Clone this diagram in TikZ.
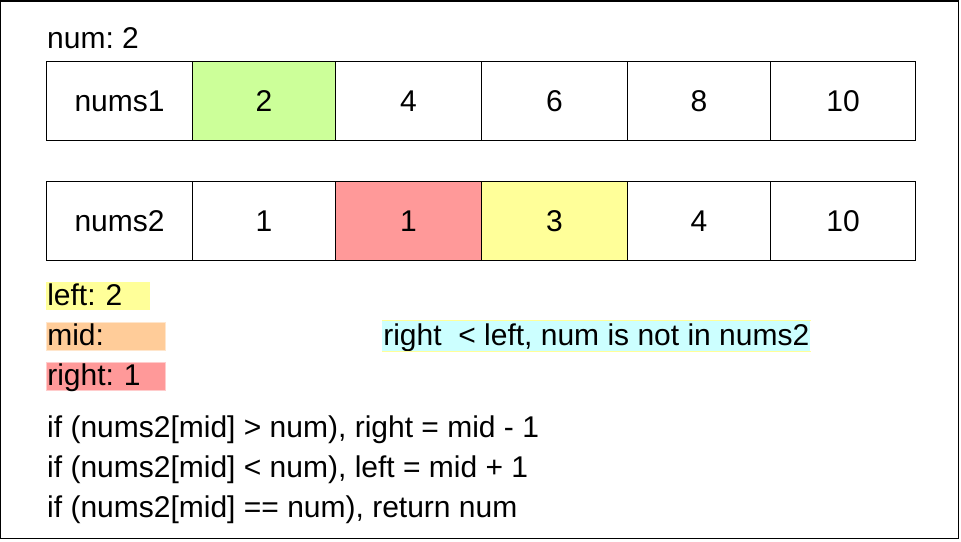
\documentclass[tikz,border=0pt]{standalone}
\usepackage{fontspec}
\setmainfont{Liberation Sans}
\usepackage{tikz}
\usetikzlibrary{positioning}

\definecolor{hitgreen}{HTML}{CCFF99}
\definecolor{midred}{HTML}{FF9999}
\definecolor{lowyellow}{HTML}{FFFF99}
\definecolor{midorange}{HTML}{FFCC99}
\definecolor{notecyan}{HTML}{CCFFFF}

\tikzset{
  cell/.style={draw, line width=1.1pt, minimum height=79pt, inner sep=0pt,
    text height=21pt, text depth=0pt, anchor=north west},
  tag/.style={anchor=north west, minimum height=28pt, inner xsep=1pt, inner ysep=0.5pt,
    text height=23pt, text depth=4pt, align=left, line width=0.6pt},
  txt/.style={anchor=base west, inner sep=0pt}
}

\begin{document}
\frenchspacing
\begin{tikzpicture}[x=1pt,y=-1pt,font=\fontsize{30}{36}\selectfont]
\useasboundingbox (0,0) rectangle (961,541);
\draw[line width=1.3pt] (0.6,1) rectangle (958.8,538.8);

\node[txt] (num) at (47,48) {num: 2};

% first array
\node[cell, minimum width=146pt] (a0) at (46,61) {nums1};
\node[cell, minimum width=143pt, fill=hitgreen] (a1) at (192,61) {2};
\node[cell, minimum width=146pt] (a2) at (335,61) {4};
\node[cell, minimum width=146pt] (a3) at (481,61) {6};
\node[cell, minimum width=143pt] (a4) at (627,61) {8};
\node[cell, minimum width=145pt] (a5) at (770,61) {10};

% second array
\node[cell, minimum width=146pt] (b0) at (46,181) {nums2};
\node[cell, minimum width=143pt] (b1) at (192,181) {1};
\node[cell, minimum width=146pt, fill=midred] (b2) at (335,181) {1};
\node[cell, minimum width=146pt, fill=lowyellow] (b3) at (481,181) {3};
\node[cell, minimum width=143pt] (b4) at (627,181) {4};
\node[cell, minimum width=145pt] (b5) at (770,181) {10};

% pointers
\node[tag, fill=lowyellow, text width=102pt] (lft) at (46,282) {left: 2};
\node[tag, fill=midorange, draw=midorange!50!white, text width=117pt] (mid) at (46,322) {mid:};
\node[tag, fill=midred, draw=midred!50!white, text width=117pt] (rgt) at (46,362) {right: 1};

\node[tag, fill=notecyan, minimum width=426pt, minimum height=31pt] (note) at (382,320) {right\ \ < left, num is not in nums2};
\draw[lowyellow, line width=1pt] (note.north west) -- (note.north east);
\draw[lowyellow, line width=1pt] (note.south west) -- (note.south east);

% rules
\node[txt] (r1) at (47,437) {if (nums2[mid] > num), right = mid - 1};
\node[txt] (r2) at (47,477) {if (nums2[mid] < num), left = mid + 1};
\node[txt] (r3) at (47,517) {if (nums2[mid] == num), return num};
\end{tikzpicture}
\end{document}
